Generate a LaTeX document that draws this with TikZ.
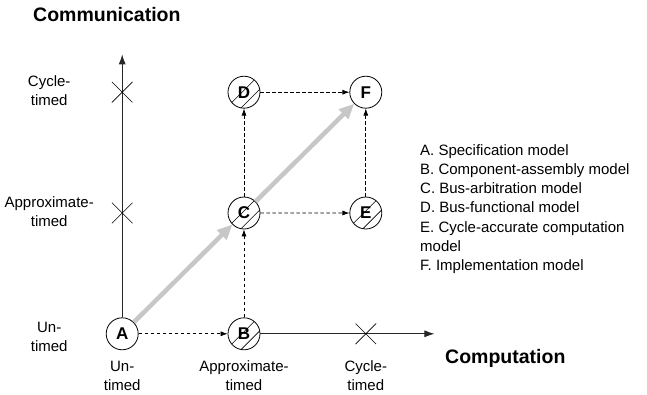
\documentclass[tikz,border=0pt]{standalone}
\usepackage{fontspec}
\setmainfont{Liberation Sans}
\usetikzlibrary{arrows.meta, calc, matrix, positioning, shapes.misc}

\tikzset{
    model/.style={circle, draw, line width=0.8pt, minimum size=32pt, inner sep=0pt,
        fill=white, font=\fontsize{17}{17}\selectfont\bfseries},
    hatched/.style={model, path picture={
        \draw[line width=0.6pt] ($(path picture bounding box.center)+(-21pt,-19pt)$) -- +(40pt,40pt);
        \draw[line width=0.6pt] ($(path picture bounding box.center)+(-13.6pt,-26.4pt)$) -- +(40pt,40pt);
    }},
    axis/.style={line width=0.8pt, black!85, -{Latex[length=10pt, width=7pt]}},
    refine/.style={line width=0.7pt, dash pattern=on 3.5pt off 2.5pt, -{Latex[length=7pt, width=5pt]}},
    flow/.style={line width=4.5pt, black!22, -{Triangle[length=15pt, width=13pt]}},
    tick/.style={cross out, draw, line width=0.6pt, minimum size=20pt, inner sep=0pt},
    ticklabel/.style={align=center, inner sep=0pt, font=\fontsize{15}{19}\selectfont},
    axisname/.style={anchor=west, inner sep=0pt, font=\fontsize{19.5}{19.5}\selectfont\bfseries}
}

\begin{document}
\begin{tikzpicture}[x=1pt, y=-1pt]
    \useasboundingbox (0,0) rectangle (647,395);

    \matrix (G) [matrix of nodes, column sep=89pt, row sep=88pt, nodes={model}] at (244,213)
    {
          & |[hatched]| D & F \\
          & |[hatched]| C & |[hatched]| E \\
        A & |[hatched]| B & \\
    };

    % axes
    \coordinate[above=263pt of G-3-1.north] (ytip);
    \coordinate[right=174pt of G-3-2.east] (xtip);
    \draw[axis] (G-3-1) -- (ytip);
    \draw[axis] (G-3-2) -- (xtip);

    \node[tick] (ct1) at (G-3-1 |- G-1-2) {};
    \node[tick] (ct2) at (G-3-1 |- G-2-2) {};
    \node[tick] (xt3) at (G-2-3 |- G-3-2) {};

    \node[ticklabel] at ($(ct1)+(-73,-2)$) {Cycle-\\timed};
    \node[ticklabel] at ($(ct2)+(-73,-1)$) {Approximate-\\timed};
    \node[ticklabel] at ($(G-3-1)+(-73,3)$) {Un-\\timed};

    \node[ticklabel] at ($(G-3-1)+(0,42)$) {Un-\\timed};
    \node[ticklabel] at ($(G-3-2)+(0,42)$) {Approximate-\\timed};
    \node[ticklabel] at ($(xt3)+(0,42)$) {Cycle-\\timed};

    \node[axisname] (comm) at (33,15) {Communication};
    \node[axisname] (comp) at (445,358) {Computation};

    % refinement steps
    \draw[refine] (G-3-1) -- (G-3-2);
    \draw[refine] (G-3-2) -- (G-2-2);
    \draw[refine] (G-2-2) -- (G-1-2);
    \draw[refine] (G-2-2) -- (G-2-3);
    \draw[refine] (G-1-2) -- (G-1-3);
    \draw[refine] (G-2-3) -- (G-1-3);

    \draw[flow] (G-3-1) -- (G-2-2);
    \draw[flow] (G-2-2) -- (G-1-3);

    \node[anchor=north west, align=left, inner sep=0pt, font=\fontsize{15}{19.3}\selectfont] (legend) at (420,144)
    {A. Specification model\\
     B. Component-assembly model\\
     C. Bus-arbitration model\\
     D. Bus-functional model\\
     E. Cycle-accurate computation\\
     model\\
     F. Implementation model};
\end{tikzpicture}
\end{document}
